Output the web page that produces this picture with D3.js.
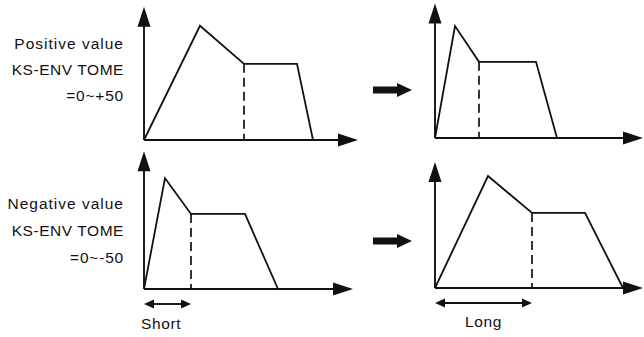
<!DOCTYPE html>
<html><head><meta charset="utf-8">
<script src="https://cdn.jsdelivr.net/npm/d3@7"></script>
<style>
html,body{margin:0;padding:0;background:#fff;}
svg{display:block;}
text{font-family:"Liberation Sans",Arial,Helvetica,sans-serif;fill:#111;}
</style></head>
<body>
<svg id="c" width="644" height="337"></svg>
<script>
// ---- data (time units / level units) ----
const panelNames   = ["positive-before","positive-after","negative-before","negative-after"];
const attackTime   = [28, 10, 10.5, 26.5];
const decayTime    = [50, 22, 23.5, 48.5];
const sustainEnd   = [76.5, 50.5, 50.5, 75];
const releaseEnd   = [84.5, 61, 67, 94];
const peakLevel    = [102, 100, 99, 100];
const sustainLevel = [68, 68, 67, 67];
const timeAxisMax  = [107, 104, 104.5, 104];
const levelAxisMax = [119, 120, 123, 112.5];
const rowLabels = [["Positive value","KS-ENV TOME","=0~+50"],["Negative value","KS-ENV TOME","=0~-50"]];
const durationLabels = ["Short","Long"];

// ---- layout ----
const originX = [144, 435, 144, 435];
const originY = [140, 138, 289, 288];
const pxPerTime = 2, pxPerLevel = 1.12;
const svg = d3.select("#c");
const ink = "#111";

function arrowHead(g, x, y, dir, len, hw){
  let pts;
  if(dir==="up") pts=[[x,y],[x-hw,y+len],[x+hw,y+len]];
  else if(dir==="right") pts=[[x,y],[x-len,y-hw],[x-len,y+hw]];
  else pts=[[x,y],[x+len,y-hw],[x+len,y+hw]];
  g.append("path").attr("d","M"+pts.map(p=>p.join(",")).join("L")+"Z").attr("fill",ink);
}

panelNames.forEach((name,i)=>{
  const x = d3.scaleLinear().domain([0, timeAxisMax[i]]).range([originX[i], originX[i]+timeAxisMax[i]*pxPerTime]);
  const y = d3.scaleLinear().domain([0, levelAxisMax[i]]).range([originY[i], originY[i]-levelAxisMax[i]*pxPerLevel]);
  const g = svg.append("g").attr("class",name);
  const headLen = 20, headHW = 6.5;
  // axes
  g.append("line").attr("x1",x(0)).attr("y1",y(0)).attr("x2",x(timeAxisMax[i])-headLen+2).attr("y2",y(0))
    .attr("stroke",ink).attr("stroke-width",1.9);
  arrowHead(g, x(timeAxisMax[i]), y(0), "right", headLen, headHW);
  g.append("line").attr("x1",x(0)).attr("y1",y(0)).attr("x2",x(0)).attr("y2",y(levelAxisMax[i])+headLen-2)
    .attr("stroke",ink).attr("stroke-width",1.9);
  arrowHead(g, x(0), y(levelAxisMax[i]), "up", headLen, headHW);
  // envelope
  const pts = [[0,0],[attackTime[i],peakLevel[i]],[decayTime[i],sustainLevel[i]],[sustainEnd[i],sustainLevel[i]],[releaseEnd[i],0]];
  g.append("path").attr("d", d3.line().x(d=>x(d[0])).y(d=>y(d[1]))(pts))
    .attr("fill","none").attr("stroke",ink).attr("stroke-width",1.8).attr("stroke-linejoin","miter");
  // dashed sustain marker
  g.append("line").attr("x1",x(decayTime[i])).attr("x2",x(decayTime[i]))
    .attr("y1",y(sustainLevel[i])).attr("y2",y(0))
    .attr("stroke",ink).attr("stroke-width",1.7).attr("stroke-dasharray","9,5");

  const row = Math.floor(i/2), col = i%2;
  if(col===0){
    const baseY = row===0 ? [49,75,101] : [209,236,263];
    const spacing = [1.0, 0.55, 0.8];
    rowLabels[row].forEach((t,k)=>{
      svg.append("text").attr("x",124).attr("y",baseY[k]).attr("text-anchor","end")
        .attr("font-size",15.5).attr("letter-spacing",spacing[k]).text(t);
    });
  } else {
    const ay = row===0 ? 90 : 241;
    const ax0 = originX[i]-62, ax1 = originX[i]-23;
    const shaftH = 3.5, hl = 15, hh = 7;
    const d = d3.path();
    d.moveTo(ax0, ay-shaftH); d.lineTo(ax1-hl, ay-shaftH); d.lineTo(ax1-hl, ay-hh);
    d.lineTo(ax1, ay); d.lineTo(ax1-hl, ay+hh); d.lineTo(ax1-hl, ay+shaftH); d.lineTo(ax0, ay+shaftH); d.closePath();
    svg.append("path").attr("d",d.toString()).attr("fill",ink);
  }
  if(row===1){
    const dy = originY[i]+15;
    g.append("line").attr("x1",x(0)+8).attr("x2",x(decayTime[i])-8).attr("y1",dy).attr("y2",dy)
      .attr("stroke",ink).attr("stroke-width",1.9);
    arrowHead(g, x(0), dy, "left", 10, 4.5);
    arrowHead(g, x(decayTime[i]), dy, "right", 10, 4.5);
    const label = durationLabels[col];
    if(col===0){
      g.append("text").attr("x",x(0)-3).attr("y",dy+25).attr("font-size",15.5).attr("letter-spacing",0.6).text(label);
    } else {
      g.append("text").attr("x",(x(0)+x(decayTime[i]))/2).attr("y",dy+24).attr("text-anchor","middle")
        .attr("font-size",15.5).attr("letter-spacing",0.6).text(label);
    }
  }
});
</script>
</body></html>
